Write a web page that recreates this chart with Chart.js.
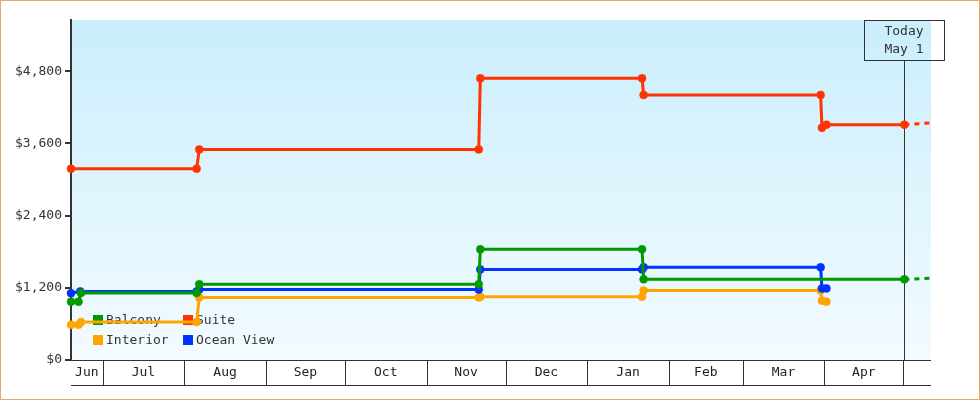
<!DOCTYPE html>
<html><head><meta charset="utf-8">
<script src="https://cdn.jsdelivr.net/npm/chart.js@4.4.1/dist/chart.umd.min.js"></script>
<style>html,body{margin:0;padding:0;background:#fff;}#wrap{width:980px;height:400px;position:relative;}</style>
</head><body><div id="wrap"><canvas id="c" width="980" height="400"></canvas></div>
<script>
// x values are days since Jun 1 (fractional days allowed)
const monthLabels = ['Jun','Jul','Aug','Sep','Oct','Nov','Dec','Jan','Feb','Mar','Apr'];
const monthStartDays = [0,30,61,92,122,153,183,214,245,273,304,334];
const yTickValues = [0,1200,2400,3600,4800];
const xMinDay = 18, xMaxDay = 344.5, yMaxValue = 5650;
const todayDay = 334.4;
const todayLines = ['Today','May 1'];

const balconyDays   = [18, 20.85, 21.8, 65.7, 66.7, 172.8, 173.4, 234.8, 235.4, 334.4];
const balconyValues = [970, 970, 1115, 1115, 1260, 1260, 1840, 1840, 1340, 1340];
const balconyForecastDays   = [334.4, 344.5];
const balconyForecastValues = [1340, 1360];

const suiteDays   = [18, 65.7, 66.7, 172.8, 173.4, 234.8, 235.4, 302.6, 303.1, 304.8, 334.4];
const suiteValues = [3180, 3180, 3500, 3500, 4680, 4680, 4405, 4405, 3860, 3910, 3910];
const suiteForecastDays   = [334.4, 344.5];
const suiteForecastValues = [3910, 3940];

const interiorDays   = [18, 20.85, 21.8, 65.7, 66.7, 172.8, 173.4, 234.8, 235.4, 302.6, 303.1, 304.8];
const interiorValues = [585, 585, 630, 630, 1040, 1040, 1050, 1050, 1155, 1155, 985, 970];

const oceanDays   = [18, 21.5, 65.7, 66.7, 172.8, 173.4, 234.8, 235.4, 302.6, 303.1, 304.8];
const oceanValues = [1110, 1140, 1140, 1170, 1170, 1505, 1505, 1540, 1540, 1190, 1190];

const COLORS = {Balcony:'#009900', Suite:'#ff3300', Interior:'#ffa500', 'Ocean View':'#0033ff'};
const FONT = 'DejaVu Sans Mono';

function pts(d, v){ return d.map((x,i)=>({x:x, y:v[i]})); }
function series(label, d, v){
  const c = COLORS[label];
  return {label, data: pts(d,v), borderColor:c, backgroundColor:c, borderWidth:3, tension:0,
    pointStyle:'circle', pointRadius:4, pointBorderWidth:0.5, pointBackgroundColor:c, pointBorderColor:c, clip:false};
}
function forecast(label, d, v){
  const c = COLORS[label];
  return {label: label+' forecast', data: pts(d,v), borderColor:c, borderWidth:3, borderDash:[5,5],
    pointRadius:0, tension:0, clip:false};
}

const legendItems = [['Balcony',0,0],['Suite',1,0],['Interior',0,1],['Ocean View',1,1]];

const decor = {
  id:'decor',
  beforeDraw(chart){
    const {ctx, chartArea:a} = chart;
    ctx.save();
    ctx.fillStyle = '#fff'; ctx.fillRect(0,0,chart.width,chart.height);
    const g = ctx.createLinearGradient(0,a.top,0,a.bottom);
    g.addColorStop(0,'#caeefc'); g.addColorStop(1,'#f3fbff');
    ctx.fillStyle = g; ctx.fillRect(a.left,a.top,a.right-a.left,a.bottom-a.top);
    ctx.restore();
  },
  beforeDatasetsDraw(chart){
    const {ctx, chartArea:a, scales:{x}} = chart;
    ctx.save();
    // legend (under the lines)
    ctx.font = '13px "'+FONT+'"'; ctx.textBaseline='middle'; ctx.textAlign='left';
    legendItems.forEach(([lab,col,row])=>{
      const lx = a.left + 22 + col*90, ly = a.bottom - 45 + row*20;
      ctx.fillStyle = COLORS[lab]; ctx.fillRect(lx, ly, 10, 10);
      ctx.fillStyle = '#333'; ctx.fillText(lab, lx+13, ly+5.5);
    });
    // today line
    const tx = Math.round(x.getPixelForValue(todayDay)) + 0.5;
    ctx.strokeStyle = '#333'; ctx.lineWidth = 1;
    ctx.beginPath(); ctx.moveTo(tx, a.top+40); ctx.lineTo(tx, a.bottom); ctx.stroke();
    // x axis month boxes
    const yb = a.bottom + 25;
    ctx.beginPath();
    ctx.moveTo(a.left, a.bottom+0.5); ctx.lineTo(a.right, a.bottom+0.5);
    ctx.moveTo(a.left, yb+0.5); ctx.lineTo(a.right, yb+0.5);
    monthStartDays.forEach(d=>{
      if (d > xMinDay && d < xMaxDay){
        const px = Math.round(x.getPixelForValue(d)) + 0.5;
        ctx.moveTo(px, a.bottom); ctx.lineTo(px, yb);
      }
    });
    ctx.stroke();
    ctx.fillStyle = '#222'; ctx.textAlign='center'; ctx.textBaseline='middle';
    monthLabels.forEach((lab,i)=>{
      const s = Math.max(monthStartDays[i], xMinDay), e = Math.min(monthStartDays[i+1], xMaxDay);
      const cx = (x.getPixelForValue(s) + x.getPixelForValue(e))/2;
      ctx.fillText(lab, cx, a.bottom + 13);
    });
    ctx.restore();
  },
  afterDraw(chart){
    const {ctx, chartArea:a, scales:{x}} = chart;
    ctx.save();
    const tx = Math.round(x.getPixelForValue(todayDay));
    ctx.strokeStyle = '#333'; ctx.lineWidth = 1;
    ctx.strokeRect(tx-39.5, a.top+0.5, 80, 40);
    ctx.fillStyle = '#333'; ctx.font = '13px "'+FONT+'"'; ctx.textAlign='center'; ctx.textBaseline='middle';
    todayLines.forEach((t,i)=> ctx.fillText(t, tx, a.top + 12 + i*18));
    ctx.strokeStyle = '#eaa866'; ctx.lineWidth = 2;
    ctx.strokeRect(0,0,chart.width,chart.height);
    ctx.restore();
  }
};

new Chart(document.getElementById('c'), {
  type:'line',
  data:{ datasets:[
    series('Balcony', balconyDays, balconyValues),
    forecast('Balcony', balconyForecastDays, balconyForecastValues),
    series('Suite', suiteDays, suiteValues),
    forecast('Suite', suiteForecastDays, suiteForecastValues),
    series('Ocean View', oceanDays, oceanValues),
    series('Interior', interiorDays, interiorValues)
  ]},
  options:{
    responsive:false, animation:false, devicePixelRatio:1,
    layout:{padding:{left:0, right:49, top:20, bottom:40}},
    plugins:{legend:{display:false}, tooltip:{enabled:false}},
    scales:{
      x:{type:'linear', min:xMinDay, max:xMaxDay, display:false},
      y:{type:'linear', min:0, max:yMaxValue,
        afterBuildTicks: s => { s.ticks = yTickValues.map(v=>({value:v})); },
        afterFit: s => { s.width = 71; },
        grid:{display:true, drawOnChartArea:false, drawTicks:true, tickLength:6, color:'#333', lineWidth:2},
        border:{display:true, color:'#333', width:2},
        ticks:{callback: v => '$' + Number(v).toLocaleString('en-US'), color:'#333', padding:3,
          font:{family:FONT, size:13}}
      }
    }
  },
  plugins:[decor]
});
</script></body></html>
